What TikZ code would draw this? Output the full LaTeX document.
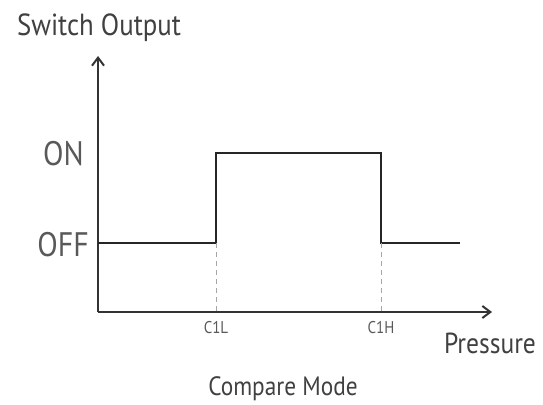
\documentclass[tikz,border=0pt]{standalone}
\usepackage{fontspec}
\setmainfont[FakeStretch=0.88]{PT Sans}
\usetikzlibrary{arrows.meta,positioning}
\tikzset{chart/.style={
  x=1pt,y=-1pt,
  >={Straight Barb[length=8pt,width=12pt,line width=2pt]},line join=miter
},
axis/.style={->,line width=2.2pt,black!80},
signal/.style={line width=2.6pt,black!85},
guide/.style={dashed,dash pattern=on 5pt off 4pt,gray!70,line width=0.9pt},
lbl/.style={text=black!75,inner sep=0pt,anchor=base}
}

\begin{document}
\begin{tikzpicture}[chart]
  \useasboundingbox (0,0) rectangle (543,404);
  \coordinate (O) at (98,312);
  \coordinate (Ytip) at (98,56);
  \coordinate (Xtip) at (492,312);
  \coordinate (L0) at (98,243);
  \coordinate (L1) at (216,243);
  \coordinate (L2) at (216,153);
  \coordinate (H1) at (381,153);
  \coordinate (H2) at (381,243);
  \coordinate (E) at (460,243);
  \coordinate (Lb) at (216,312);
  \coordinate (Hb) at (381,312);
  \draw[axis] (O)--(Ytip);
  \draw[axis] (O)--(Xtip);
  \draw[signal] (L0)--(L1)--(L2)--(H1)--(H2)--(E);
  \draw[guide] (L1)--(Lb);
  \draw[guide] (H2)--(Hb);
  \node[lbl,font=\fontsize{30.5}{34}\selectfont] (ylab) at (99,36) {Switch Output};
  \node[lbl,font=\fontsize{34}{38}\selectfont,text=black!65,anchor=base east] (on) at (84,165) {ON};
  \node[lbl,font=\fontsize{34}{38}\selectfont,text=black!65,anchor=base east] (off) at (89,256) {OFF};
  \node[lbl,font=\fontsize{17}{20}\selectfont,text=black!65] (c1l) at (216,333) {C1L};
  \node[lbl,font=\fontsize{17}{20}\selectfont,text=black!65] (c1h) at (381,333) {C1H};
  \node[lbl,font=\fontsize{29}{32}\selectfont] (xlab) at (490,353) {Pressure};
  \node[lbl,font=\fontsize{26.5}{30}\selectfont] (mode) at (283,395) {Compare Mode};
\end{tikzpicture}
\end{document}
